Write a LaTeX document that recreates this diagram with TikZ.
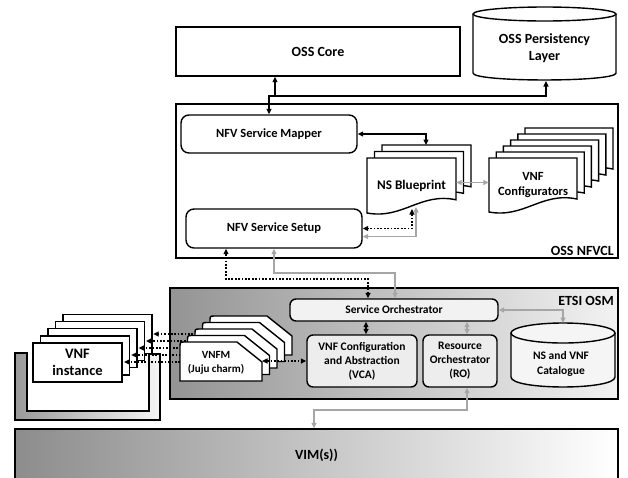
\documentclass[tikz,border=0pt]{standalone}
\usepackage{fontspec}
\setmainfont{Carlito}
\usetikzlibrary{arrows.meta}
\definecolor{linkgray}{HTML}{A6A6A6}
\newcommand{\fsz}[2]{\bfseries\fontsize{#1}{#2}\selectfont}
% sheet with wavy lower edge: left, top, width, height
\newcommand{\docpath}[4]{({#1},{#2}) -- ({#1+#3},{#2}) -- ({#1+#3},{#2+0.76*#4}) .. controls ({#1+0.6*#3},{#2+0.62*#4}) and ({#1+0.4*#3},{#2+1.12*#4}) .. ({#1},{#2+#4}) -- cycle}
% sheet with cut corner: left, top
\newcommand{\cutpath}[2]{({#1},{#2+39}) -- ({#1},{#2+5}) .. controls ({#1},{#2}) .. ({#1+5},{#2}) -- ({#1+57},{#2}) -- ({#1+82},{#2+20}) -- ({#1+82},{#2+39}) -- cycle}

\begin{document}
\begin{tikzpicture}[x=1pt,y=-1pt,>={Triangle[length=5.5pt,width=5pt]},
    box/.style={draw,line width=1.4pt},
    sheet/.style={draw,line width=1.4pt,fill=white},
    heavy/.style={line width=2.2pt},
    link/.style={line width=1.6pt},
    graylink/.style={line width=1.6pt,linkgray},
    dotlink/.style={line width=1.7pt,dash pattern=on 1.7pt off 1.7pt}]
\useasboundingbox (0,0) rectangle (628,477);

% OSS
        \node[box,minimum width=284,minimum height=49,font=\fsz{14}{17}] (core) at (318,51.5) {OSS Core};
        \draw[box,fill=white] (473,14) -- (473,73) .. controls (473,82.3) and (616,82.3) .. (616,73) -- (616,14);
        \draw[box] (544.5,14) ellipse [x radius=71.5pt,y radius=7pt];
        \node[font=\fsz{14}{17},align=center] (persist) at (544.5,48) {OSS Persistency\\Layer};
        \coordinate (persistfoot) at (546,81);

% OSS NFVCL
        \node[box,minimum width=442,minimum height=154] (nfvcl) at (397,181) {};
        \node[font=\fsz{14}{17},anchor=base east,inner sep=0] (nfvcllabel) at (614,255) {OSS NFVCL};
        \node[box,rounded corners=8pt,minimum width=176,minimum height=38,font=\fsz{12.5}{15}] (mapper) at (269,134) {NFV Service Mapper};
        \node[box,rounded corners=8pt,minimum width=176,minimum height=39,font=\fsz{12.5}{15}] (setup) at (274,228.5) {NFV Service Setup};
        \foreach \i in {2,1,0}
            \draw[sheet] \docpath{367+7.5*\i}{158-6.5*\i}{89}{55};
        \node[minimum width=89,minimum height=55,font=\fsz{13.2}{16}] (blueprint) at (411.5,185.5) {NS Blueprint};
        \foreach \i in {5,4,...,0}
            \draw[sheet] \docpath{489+7.2*\i}{158-6*\i}{88}{54};
        \node[minimum width=88,minimum height=54,font=\fsz{12.5}{15},align=center] (config) at (533,185) {VNF\\Configurators};

% ETSI OSM
        \node[box,left color=black!42,right color=black!5,minimum width=448,minimum height=111] (etsi) at (394,343.5) {};
        \node[font=\fsz{14}{17},anchor=base east,inner sep=0] (etsilabel) at (614,305) {ETSI OSM};
        \node[box,rounded corners=6pt,fill=black!5,minimum width=208,minimum height=22,font=\fsz{11.5}{14}] (so) at (394,310) {Service Orchestrator};
        \node[box,rounded corners=6pt,fill=black!7,minimum width=110,minimum height=52,font=\fsz{11.5}{14},align=center] (vca) at (362,361) {VNF Configuration\\and Abstraction\\(VCA)};
        \node[box,rounded corners=6pt,fill=black!7,minimum width=74,minimum height=52,font=\fsz{11.5}{14},align=center] (ro) at (460,361) {Resource\\Orchestrator\\(RO)};
        \draw[box,fill=black!4] (511,333) -- (511,377) .. controls (511,390.3) and (615,390.3) .. (615,377) -- (615,333);
        \draw[box,fill=black!4] (563,333) ellipse [x radius=52pt,y radius=10pt];
        \node[font=\fsz{11.5}{15},align=center] (catalogue) at (561,364) {NS and VNF\\Catalogue};

% VNF instances
        \draw[box,left color=black!40,right color=black!4] (15,353) -- (15,420) -- (160,420) -- (160,354) -- (149,354) -- (149,411) -- (27,411) -- (27,353) -- cycle;
        \foreach \i in {4,3,...,0}
            \draw[sheet] ({33+7.5*\i},{343-7.2*\i}) rectangle ++(89,39);
        \node[font=\fsz{14.5}{17.5},align=center] (vnf) at (77.5,362.5) {VNF\\instance};

% VNFM
        \foreach \i in {0,...,4} {
            \coordinate (vnfmside\i) at ({180+7.5*\i},{362-7*\i});
            \coordinate (vnfside\i) at ({124+7.3*\i},{362-7*\i});
            \draw[dotlink,->] (vnfmside\i) -- (vnfside\i);
        }
        \foreach \i in {4,3,...,0}
            \draw[sheet] \cutpath{180+7.5*\i}{342-6.5*\i};
        \node[font=\fsz{11}{14.5},align=center] (vnfm) at (216,363) {VNFM\\(Juju charm)};

% VIM
        \node[box,left color=black!45,right color=white,minimum width=603,minimum height=52,font=\fsz{14}{17}] (vim) at (316.5,455) {VIM(s))};

% connectors
        \coordinate (junction) at (275,96);
        \draw[heavy,<->] ([xshift=-43pt]core.south) -- (junction) -| (persistfoot);
        \draw[heavy,->] (junction) -| (mapper.north);
        \coordinate (bptop) at (426,145);
        \draw[link,<->] (mapper.east) -| (bptop);
        \coordinate (bpright) at ([yshift=3pt]blueprint.east);
        \draw[graylink,<->] (bpright) -- (bpright -| config.west);
        \coordinate (bpfootA) at (412,209);
        \coordinate (bpfootB) at (416,207);
        \draw[dotlink,<->] (bpfootA) |- (setup.east);
        \draw[graylink,<->] (bpfootB) |- ([yshift=-8pt]setup.east);
        \coordinate (setupfoot) at ([xshift=-48pt]setup.south);
        \coordinate (dotbend) at (368,279);
        \draw[dotlink,<->] (setupfoot) |- (dotbend) -- (dotbend |- so.north);
        \coordinate (graybend) at (395,273);
        \draw[graylink,<->] (setup.south) |- (graybend) -- (graybend |- so.north);
        \coordinate (vcatop) at ([xshift=4pt]vca.north);
        \draw[link,<->] (vcatop) -- (vcatop |- so.south);
        \coordinate (rotop) at ([xshift=7pt]ro.north);
        \draw[graylink,<->] (rotop) -- (rotop |- so.south);
        \coordinate (cattop) at (563,323);
        \draw[graylink,<->] (so.east) -| (cattop);
        \coordinate (robot) at ([xshift=7pt]ro.south);
        \coordinate (vimbend) at (314,410);
        \draw[graylink,<->] (robot) |- (vimbend) -- (vimbend |- vim.north);
        \coordinate (vnfmtip) at (262,361);
        \draw[dotlink,<->] (vnfmtip) -- (vnfmtip -| vca.west);

\end{tikzpicture}
\end{document}
